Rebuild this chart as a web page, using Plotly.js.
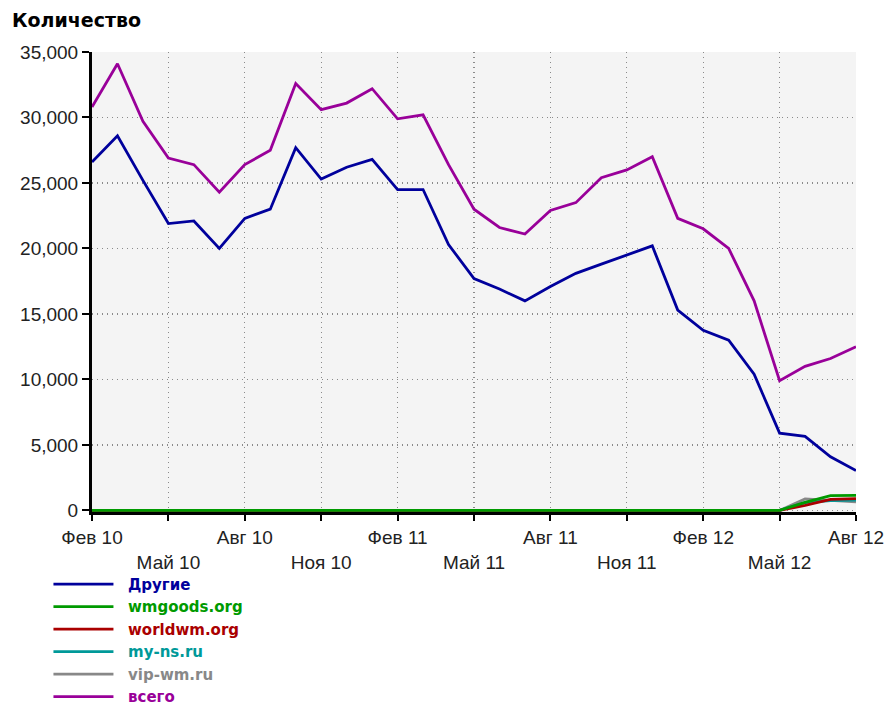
<!DOCTYPE html>
<html>
<head>
<meta charset="utf-8">
<script src="https://cdn.plot.ly/plotly-3.0.1.min.js"></script>
<style>html,body{margin:0;padding:0;background:#fff;}#chart{width:885px;height:713px;}</style>
</head>
<body>
<div id="chart"></div>
<script>
const months = ['Фев 10','Мар 10','Апр 10','Май 10','Июн 10','Июл 10','Авг 10','Сен 10','Окт 10','Ноя 10','Дек 10','Янв 11',
  'Фев 11','Мар 11','Апр 11','Май 11','Июн 11','Июл 11','Авг 11','Сен 11','Окт 11','Ноя 11','Дек 11','Янв 12',
  'Фев 12','Мар 12','Апр 12','Май 12','Июн 12','Июл 12','Авг 12'];
const tickMonths = ['Фев 10','Май 10','Авг 10','Ноя 10','Фев 11','Май 11','Авг 11','Ноя 11','Фев 12','Май 12','Авг 12'];
const tickLabels = ['Фев 10','<br>Май 10','Авг 10','<br>Ноя 10','Фев 11','<br>Май 11','Авг 11','<br>Ноя 11','Фев 12','<br>Май 12','Авг 12'];

const drugie = [26600,28600,25200,21900,22100,20000,22300,23000,27700,25300,26200,26800,24500,24500,20300,17700,16900,16000,17100,18100,18800,19500,20200,15300,13750,13000,10400,5900,5650,4100,3050];
const wmgoods = [0,0,0,0,0,0,0,0,0,0,0,0,0,0,0,0,0,0,0,0,0,0,0,0,0,0,0,0,620,1130,1150];
const worldwm = [0,0,0,0,0,0,0,0,0,0,0,0,0,0,0,0,0,0,0,0,0,0,0,0,0,0,0,0,380,850,900];
const myns    = [0,0,0,0,0,0,0,0,0,0,0,0,0,0,0,0,0,0,0,0,0,0,0,0,0,0,0,0,600,750,780];
const vipwm   = [0,0,0,0,0,0,0,0,0,0,0,0,0,0,0,0,0,0,0,0,0,0,0,0,0,0,0,0,880,750,650];
const vsego = [30800,34100,29700,26900,26400,24300,26400,27500,32600,30600,31100,32200,29900,30200,26400,23000,21600,21100,22900,23500,25400,26000,27000,22300,21500,20000,16000,9900,11000,11600,12500];

const names = ['Другие','wmgoods.org','worldwm.org','my-ns.ru','vip-wm.ru','всего'];
const colors = ['#00009c','#009a00','#aa0000','#009999','#888888','#990099'];
const series = [drugie, wmgoods, worldwm, myns, vipwm, vsego];
const drawOrder = [0,4,3,2,1,5];

const data = drawOrder.map(i => ({
  type: 'scatter', mode: 'lines', x: months, y: series[i],
  name: '&nbsp;&nbsp;<b><span style="color:' + colors[i] + '">' + names[i] + '</span></b>',
  legendrank: i + 1,
  line: {color: colors[i], width: 2.8},
  hoverinfo: 'x+y'
}));

const layout = {
  width: 885, height: 713,
  margin: {l: 92, r: 29, t: 52, b: 201, autoexpand: false},
  paper_bgcolor: '#ffffff', plot_bgcolor: '#f4f4f4',
  font: {family: 'Liberation Sans, Arial, sans-serif', size: 19, color: '#222'},
  title: {text: '<b>Количество</b>', x: 12/885, xref: 'container', xanchor: 'left', y: 1 - 20/713, yanchor: 'middle',
          font: {family: 'DejaVu Sans, sans-serif', size: 19, color: '#000'}},
  xaxis: {
    type: 'category', range: [0, 30],
    tickmode: 'array', tickvals: tickMonths, ticktext: tickLabels,
    showline: true, linecolor: '#000', linewidth: 3,
    ticks: 'outside', ticklen: 6, tickwidth: 2, tickcolor: '#000',
    showgrid: true, gridcolor: '#8a8a8a', griddash: '1px,4px', gridwidth: 1.2,
    zeroline: false, tickangle: 0, fixedrange: true
  },
  yaxis: {
    range: [-120, 35000], tickvals: [0,5000,10000,15000,20000,25000,30000,35000],
    tickformat: ',d',
    showline: true, linecolor: '#000', linewidth: 3,
    ticks: 'outside', ticklen: 7, tickwidth: 2, tickcolor: '#000',
    showgrid: true, gridcolor: '#8a8a8a', griddash: '1px,4px', gridwidth: 1.2,
    zeroline: false, fixedrange: true
  },
  showlegend: true,
  legend: {
    x: -0.057, xanchor: 'left', y: -0.1214, yanchor: 'top',
    orientation: 'v', bgcolor: 'rgba(0,0,0,0)',
    font: {family: 'DejaVu Sans, sans-serif', size: 15},
    itemwidth: 60, traceorder: 'normal'
  }
};

Plotly.newPlot('chart', data, layout, {displayModeBar: false, staticPlot: true});
</script>
</body>
</html>
